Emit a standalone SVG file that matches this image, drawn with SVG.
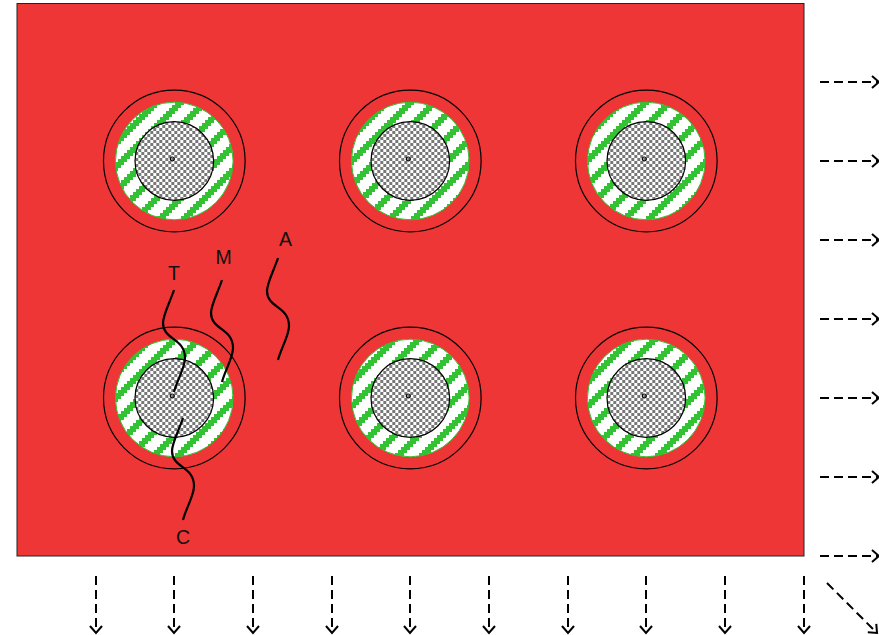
<svg xmlns="http://www.w3.org/2000/svg" width="879" height="635" viewBox="0 0 879 635">
<style>
.o{fill:none;stroke:#000;stroke-width:1.2}
.r{stroke:#33c233;stroke-width:1}
.i{fill:url(#ch);stroke:#000;stroke-width:1.2}
.d{fill:none;stroke:#000;stroke-width:1.2}
.a{fill:none;stroke:#000;stroke-width:2;stroke-dasharray:9 5;marker-end:url(#ah)}
.q{fill:none;stroke:#000;stroke-width:2.2}
.g{fill:#33c233}
text{font-family:"Liberation Sans",Arial,sans-serif;font-size:19.5px;fill:#111;text-anchor:middle}
</style>
<defs>
<pattern id="st" width="24" height="24" patternUnits="userSpaceOnUse">
<rect width="24" height="24" fill="#fff"/>
<g class="g" shape-rendering="crispEdges">
<rect x="21" y="0" width="3" height="3"/><rect x="0" y="0" width="6" height="3"/>
<rect x="18" y="3" width="6" height="3"/><rect x="0" y="3" width="3" height="3"/>
<rect x="15" y="6" width="9" height="3"/><rect x="12" y="9" width="9" height="3"/>
<rect x="9" y="12" width="9" height="3"/><rect x="6" y="15" width="9" height="3"/>
<rect x="3" y="18" width="9" height="3"/><rect x="0" y="21" width="9" height="3"/>
</g>
</pattern>
<pattern id="s1" href="#st" patternTransform="translate(16 0)"/>
<pattern id="s2" href="#st" patternTransform="translate(6 0)"/>
<pattern id="s3" href="#st" patternTransform="translate(1 0)"/>
<pattern id="s4" href="#st" patternTransform="translate(7 0)"/>
<pattern id="s5" href="#st" patternTransform="translate(11 0)"/>
<pattern id="s6" href="#st" patternTransform="translate(7 0)"/>
<pattern id="ch" width="6" height="6" patternUnits="userSpaceOnUse">
<rect width="6" height="6" fill="#fff"/><g shape-rendering="crispEdges"><rect width="3" height="3" fill="#777"/><rect x="3" y="3" width="3" height="3" fill="#777"/></g>
</pattern>
<marker id="ah" markerUnits="userSpaceOnUse" markerWidth="16" markerHeight="16" refX="11" refY="8" orient="auto" viewBox="0 0 16 16">
<path d="M4 2L11 8L4 14" fill="none" stroke="#000" stroke-width="2"/>
</marker>
<circle id="rim" class="o" r="70.8"/>
<g id="core"><circle class="i" r="39.3"/><circle class="d" cx="-2" cy="-2" r="2"/></g>
</defs>
<rect id="board" x="17" y="3.5" width="787" height="552.5" fill="#ee3636" stroke="#222" stroke-width="1"/>
<g id="n1"><use href="#rim" x="174.3" y="161"/><circle class="r" fill="url(#s1)" cx="174.3" cy="161" r="58.8"/><use href="#core" x="174.3" y="161"/></g>
<g id="n2"><use href="#rim" x="410.3" y="161"/><circle class="r" fill="url(#s2)" cx="410.3" cy="161" r="58.8"/><use href="#core" x="410.3" y="161"/></g>
<g id="n3"><use href="#rim" x="646.3" y="161"/><circle class="r" fill="url(#s3)" cx="646.3" cy="161" r="58.8"/><use href="#core" x="646.3" y="161"/></g>
<g id="n4"><use href="#rim" x="174.3" y="398"/><circle class="r" fill="url(#s4)" cx="174.3" cy="398" r="58.8"/><use href="#core" x="174.3" y="398"/></g>
<g id="n5"><use href="#rim" x="410.3" y="398"/><circle class="r" fill="url(#s5)" cx="410.3" cy="398" r="58.8"/><use href="#core" x="410.3" y="398"/></g>
<g id="n6"><use href="#rim" x="646.3" y="398"/><circle class="r" fill="url(#s6)" cx="646.3" cy="398" r="58.8"/><use href="#core" x="646.3" y="398"/></g>
<g id="connectors">
<path class="a" d="M820 82H879"/><path class="a" d="M820 161H879"/><path class="a" d="M820 240H879"/><path class="a" d="M820 319H879"/><path class="a" d="M820 398H879"/><path class="a" d="M820 477H879"/><path class="a" d="M820 556H879"/>
<path class="a" d="M96 576V633"/><path class="a" d="M174 576V633"/><path class="a" d="M253 576V633"/><path class="a" d="M332 576V633"/><path class="a" d="M410 576V633"/><path class="a" d="M489 576V633"/><path class="a" d="M568 576V633"/><path class="a" d="M646 576V633"/><path class="a" d="M725 576V633"/><path class="a" d="M804 576V633"/>
<path class="a" d="M827 583L877 633"/>
<path class="q" d="M174 290C170 302 163 315 163 323C163 340 185 338 185 358C185 368 177 380 174 392"/>
<path class="q" d="M222 280C218 292 211 305 211 313C211 330 233 328 233 348C233 358 225 370 222 382"/>
<path class="q" d="M278 258C274 270 267 283 267 291C267 308 289 306 289 326C289 336 281 348 278 360"/>
<path class="q" d="M183 418C179 430 172 443 172 451C172 468 194 466 194 486C194 496 186 508 183 520"/>
</g>
<g id="labels"><text x="174" y="280">T</text><text x="223.500" y="264">M</text><text x="285.500" y="246">A</text><text x="183" y="544">C</text></g>
</svg>
